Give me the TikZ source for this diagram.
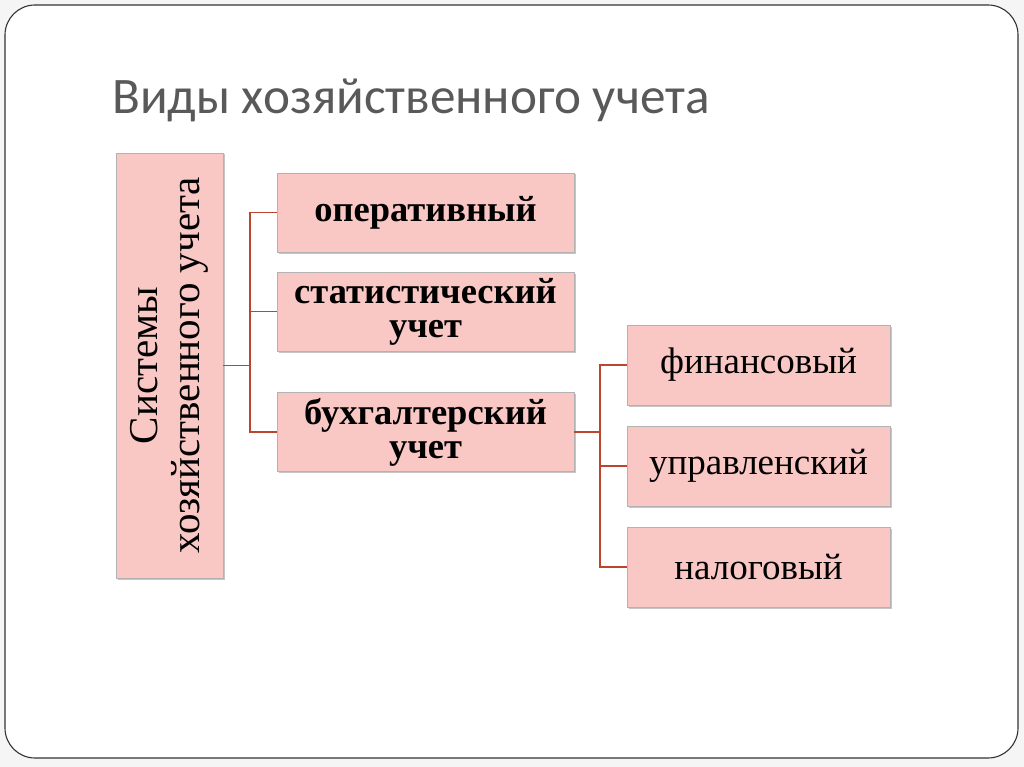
\documentclass[tikz,border=0pt]{standalone}
\usepackage{fontspec}
\setmainfont{Liberation Serif}
\newfontfamily\titlefont{Carlito}
\usetikzlibrary{positioning}
\usetikzlibrary{shadows}
\definecolor{boxpink}{RGB}{249,199,196}
\definecolor{linkred}{RGB}{185,70,45}
\definecolor{titlegray}{RGB}{89,89,89}
\tikzset {
  % pink boxes of the scheme
  box/.style = {draw=gray!60, fill=boxpink, line width=0.6pt, align=center,
    drop shadow={shadow xshift=1.5pt, shadow yshift=-1.5pt, opacity=0.45}},
  kind/.style = {box, minimum width=297pt, minimum height=79pt, font=\fontsize{36.5}{34}\selectfont\bfseries},
  sub/.style = {box, minimum width=263pt, minimum height=80pt, font=\fontsize{37}{38}\selectfont},
  % tree connectors
  link/.style = {linkred, line width=1.1pt},
}
\begin{document}
\begin{tikzpicture}[x=1pt, y=-1pt]

        \fill[gray!8] (0,0) rectangle (1024,767);
        \draw[fill=white, draw=gray!40!black, line width=1.1pt, rounded corners=30pt] (5,5) rectangle (1018,758);

        \node[anchor=base west, inner sep=0pt, text=titlegray, font=\titlefont\fontsize{51.2}{53}\selectfont] (title) at (112,114) {Виды хозяйственного учета};

        \node[box, minimum width=425pt, minimum height=107pt, rotate=90, font=\fontsize{41}{42}\selectfont] (sys) at (169.5,365.5) {Системы\\хозяйственного учета};

        \node[kind] (oper) at (425.5,212.5) {оперативный};
        \node[kind] (stat) at (425.5,311.5) {статистический\\учет};
        \node[kind] (buh) at (425.5,432) {бухгалтерский\\учет};

        \node[sub] (fin) at (758.5,365) {финансовый};
        \node[sub] (upr) at (758.5,466) {управленский};
        \node[sub] (nal) at (758.5,567) {налоговый};

        \coordinate (j1) at (250,365.5);
        \coordinate (j2) at (600,432);

        \draw[link] (sys.south) -- (j1);
        \draw[link] (j1) |- (oper.west);
        \draw[link] (j1) |- (stat.west);
        \draw[link] (j1) |- (buh.west);

        \draw[link] (buh.east) -- (j2);
        \draw[link] (j2) |- (fin.west);
        \draw[link] (j2) |- (upr.west);
        \draw[link] (j2) |- (nal.west);

      \end{tikzpicture}
\end{document}
